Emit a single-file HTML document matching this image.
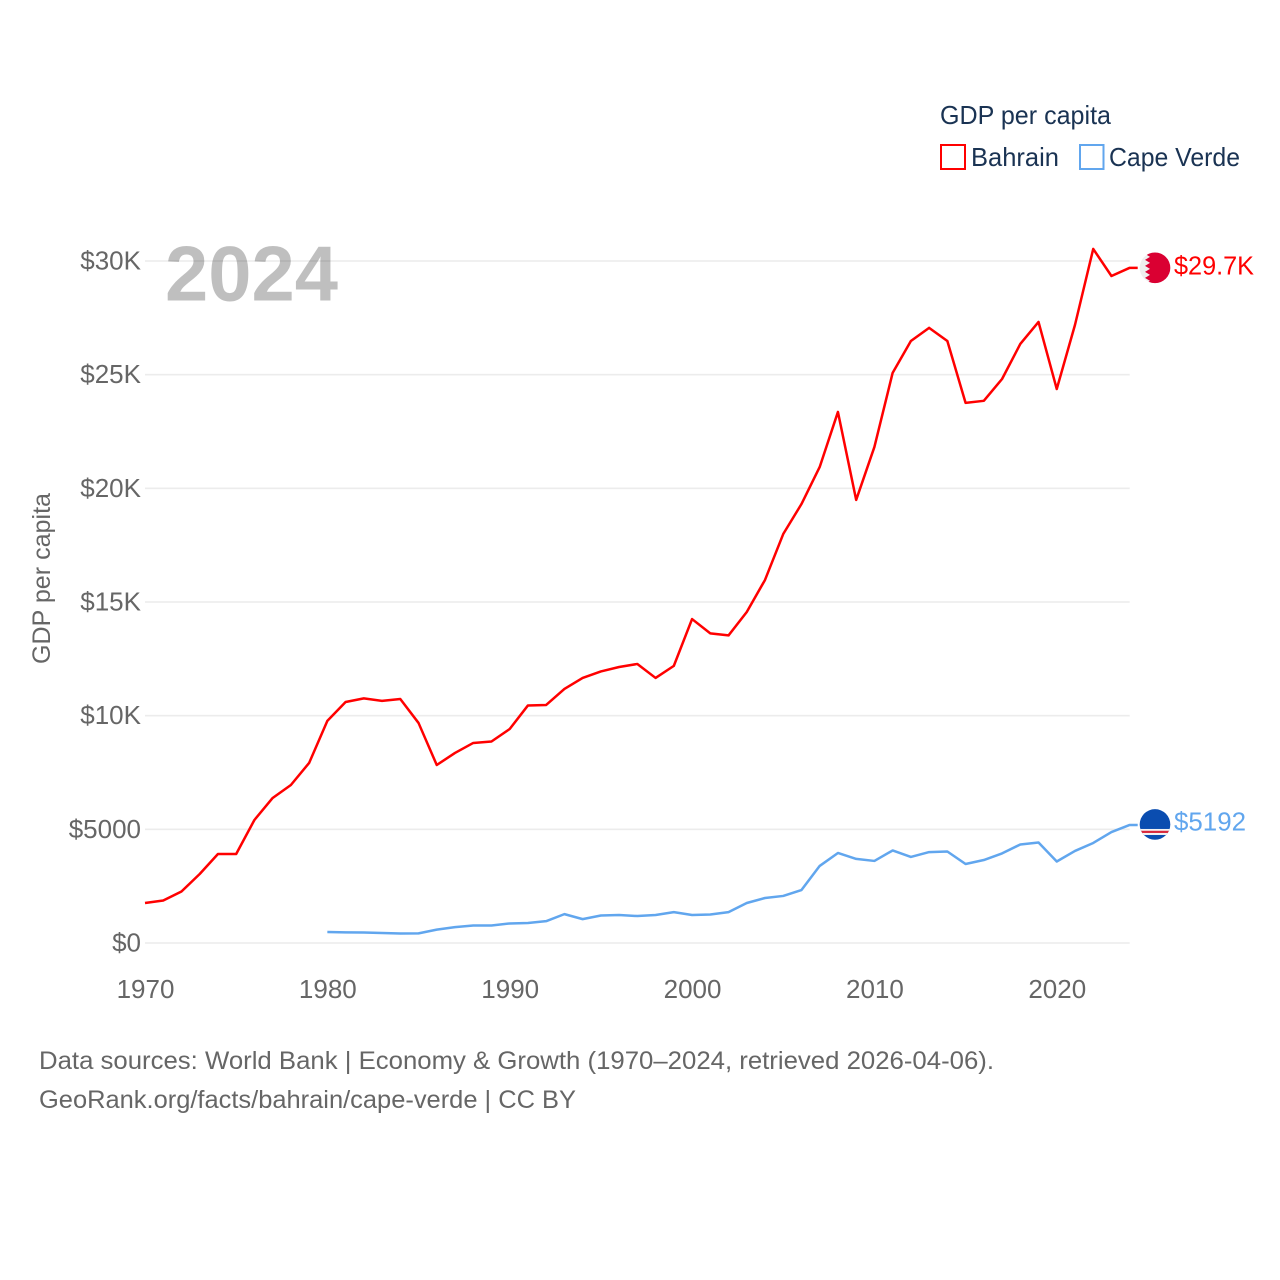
<!DOCTYPE html>
<html lang="en">
<head>
<meta charset="utf-8">
<title>GDP per capita: Bahrain and Cape Verde</title>
<style>
html,body{margin:0;padding:0;background:#fff;width:1280px;height:1280px;overflow:hidden}
svg{display:block;font-family:"Liberation Sans",Arial,sans-serif}
</style>
</head>
<body>
<svg id="chart" xmlns="http://www.w3.org/2000/svg" width="1280" height="1280" viewBox="0 0 1280 1280">
  <defs>
    <clipPath id="flag-clip-circle"><circle cx="0" cy="0" r="15.3"/></clipPath>
  </defs>
  <g id="grid"></g>
  <g id="y-labels"></g>
  <g id="x-labels"></g>
  <text transform="translate(50,578.5) rotate(-90)" text-anchor="middle" font-size="25" fill="#666" textLength="171" lengthAdjust="spacingAndGlyphs">GDP per capita</text>
  <text x="165" y="300.5" font-size="78" font-weight="700" fill="#000" fill-opacity="0.25" textLength="173" lengthAdjust="spacingAndGlyphs">2024</text>
  <g id="series"></g>
  <g id="end-markers"></g>

  <g>
    <text x="940" y="124" font-size="26" fill="#1a3353" textLength="171" lengthAdjust="spacingAndGlyphs">GDP per capita</text>
    <g>
      <rect x="941" y="145" width="24" height="24" fill="none" stroke="#ff0000" stroke-width="2"/>
      <text x="971" y="166" font-size="26" fill="#1a3353" textLength="88" lengthAdjust="spacingAndGlyphs">Bahrain</text>
    </g>
    <g>
      <rect x="1080" y="145" width="23.5" height="24" fill="none" stroke="#61a6ee" stroke-width="2"/>
      <text x="1109" y="166" font-size="26" fill="#1a3353" textLength="131" lengthAdjust="spacingAndGlyphs">Cape Verde</text>
    </g>
  </g>

  <g>
    <text x="39" y="1069" font-size="25" fill="#666" textLength="955" lengthAdjust="spacingAndGlyphs">Data sources: World Bank | Economy &amp; Growth (1970–2024, retrieved 2026-04-06).</text>
    <text x="39" y="1108" font-size="25" fill="#666" textLength="537" lengthAdjust="spacingAndGlyphs">GeoRank.org/facts/bahrain/cape-verde | CC BY</text>
  </g>
</svg>
<script>
const bahrainStartYear = 1970;
const capeVerdeStartYear = 1980;
const bahrainValues = [1760,1870,2265,3035,3915,3915,5410,6380,6950,7920,9770,10600,10760,10650,10735,9680,7830,8360,8800,8865,9415,10450,10470,11175,11660,11945,12140,12275,11660,12190,14250,13620,13530,14560,15970,17990,19310,20940,23360,19490,21820,25080,26480,27060,26480,23760,23850,24810,26350,27320,24370,27190,30530,29340,29700];
const capeVerdeValues = [484,470,460,440,420,425,590,700,770,770,860,880,960,1270,1050,1210,1230,1185,1230,1360,1230,1255,1360,1760,1980,2070,2330,3390,3960,3700,3610,4070,3785,4000,4025,3475,3650,3940,4335,4420,3585,4050,4400,4880,5192];
const yTickValues = [0,5000,10000,15000,20000,25000,30000];
const yTickLabels = ["$0","$5000","$10K","$15K","$20K","$25K","$30K"];
const xTickYears = [1970,1980,1990,2000,2010,2020];
const bahrainEndLabel = "$29.7K";
const capeVerdeEndLabel = "$5192";

const NS = "http://www.w3.org/2000/svg";
const plotLeft = 145, plotRight = 1129.7, plotBottom = 943, plotTop = 261;
const xDomain = [1970, 2024], yDomain = [0, 30000];
function xScale(year){ return plotLeft + (year - xDomain[0]) / (xDomain[1] - xDomain[0]) * (plotRight - plotLeft); }
function yScale(value){ return plotBottom - (value - yDomain[0]) / (yDomain[1] - yDomain[0]) * (plotBottom - plotTop); }
function make(tag, attrs, parent){
  const el = document.createElementNS(NS, tag);
  for (const k in attrs) el.setAttribute(k, attrs[k]);
  parent.appendChild(el);
  return el;
}

const gridG = document.getElementById("grid");
const yG = document.getElementById("y-labels");
yTickValues.forEach(function(v, i){
  const y = yScale(v);
  const line = make("line", {x1: plotLeft, x2: plotRight, y1: y, y2: y, stroke: "#ececec", "stroke-width": 1.6}, gridG);
  
  
  const t = make("text", {x: 141, y: y + 8.5, "text-anchor": "end", "font-size": 26, fill: "#666"}, yG);
  
  
  t.textContent = yTickLabels[i];
});

const xG = document.getElementById("x-labels");
xTickYears.forEach(function(yr){
  const t = make("text", {x: xScale(yr) + 0.5, y: 998, "text-anchor": "middle", "font-size": 26, fill: "#666"}, xG);
  
  
  t.textContent = yr;
});

const seriesG = document.getElementById("series");
function drawSeries(values, startYear, color, name){
  const pts = values.map(function(v, i){ return xScale(startYear + i).toFixed(2) + "," + yScale(v).toFixed(2); });
  const last = values[values.length - 1];
  pts.push((plotRight + 8) + "," + yScale(last).toFixed(2));
  const line = make("polyline", {points: pts.join(" "), fill: "none", stroke: color, "stroke-width": 2.5, "stroke-linejoin": "round"}, seriesG);
  
  
}
drawSeries(bahrainValues, bahrainStartYear, "#ff0000", "bahrain-line");
drawSeries(capeVerdeValues, capeVerdeStartYear, "#61a6ee", "cape-verde-line");

const markers = document.getElementById("end-markers");
const flagX = 1155;

const bahrainY = yScale(bahrainValues[bahrainValues.length - 1]);
const bFlag = make("g", {transform: "translate(" + flagX + "," + bahrainY.toFixed(2) + ")", "clip-path": "url(#flag-clip-circle)"}, markers);


make("rect", {x: -16, y: -16, width: 32, height: 32, fill: "#efefef"}, bFlag);
make("polygon", {points: "-10,-16 16,-16 16,16 -10,16 -5,13 -10,10 -5,7 -10,4 -5,1 -10,-2 -5,-5 -10,-8 -5,-11 -10,-14", fill: "#da0032"}, bFlag);
const bLabel = make("text", {x: 1174, y: bahrainY + 6.5, "font-size": 26, fill: "#ff0000", textLength: 80, lengthAdjust: "spacingAndGlyphs"}, markers);


bLabel.textContent = bahrainEndLabel;

const capeY = yScale(capeVerdeValues[capeVerdeValues.length - 1]);
const cFlag = make("g", {transform: "translate(" + flagX + "," + (capeY - 0.5).toFixed(2) + ")", "clip-path": "url(#flag-clip-circle)"}, markers);


make("rect", {x: -16, y: -16, width: 32, height: 32, fill: "#0a4db0"}, cFlag);
make("rect", {x: -16, y: 4.5, width: 32, height: 6, fill: "#f4f4f4"}, cFlag);
make("rect", {x: -16, y: 6.3, width: 32, height: 2.2, fill: "#d9283c"}, cFlag);
const cLabel = make("text", {x: 1174, y: capeY + 5.5, "font-size": 26, fill: "#61a6ee", textLength: 72, lengthAdjust: "spacingAndGlyphs"}, markers);


cLabel.textContent = capeVerdeEndLabel;
</script>
</body>
</html>
